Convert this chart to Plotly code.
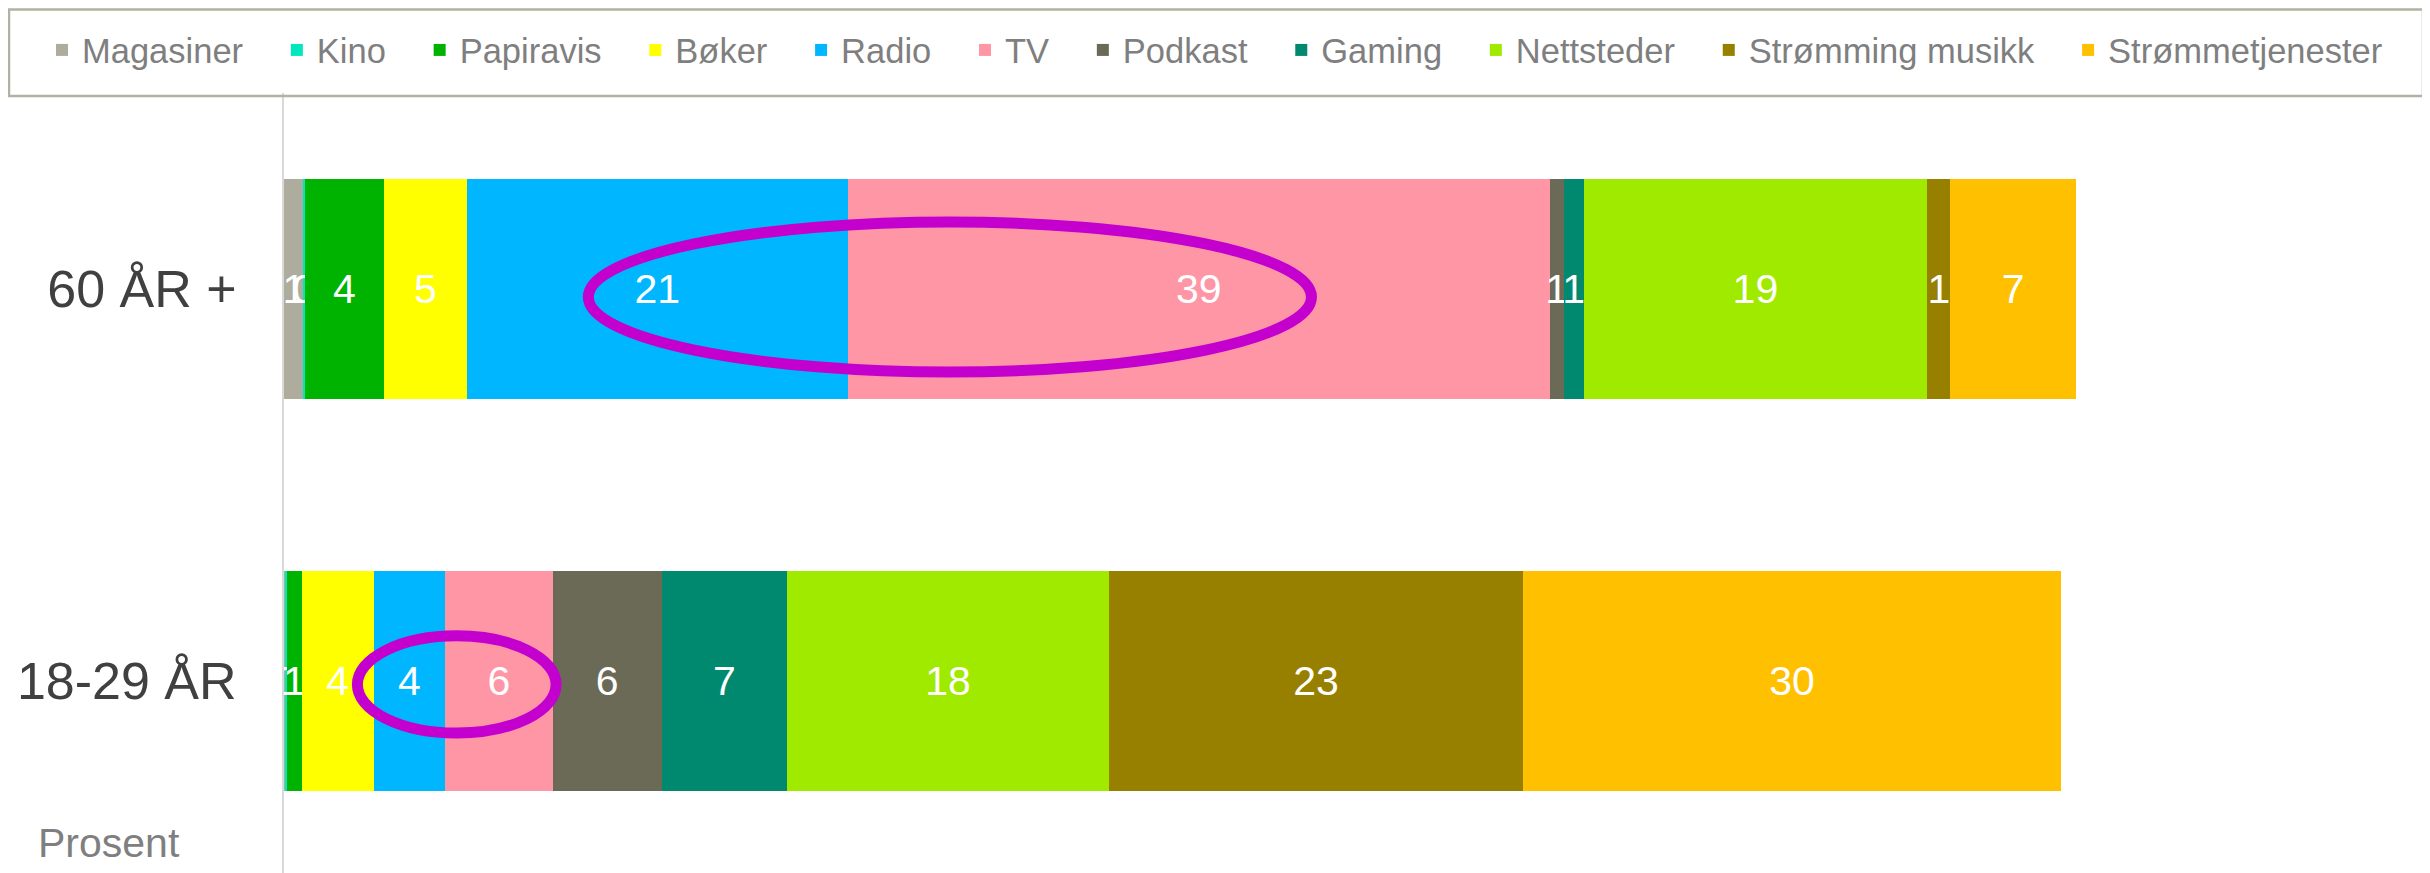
import plotly.graph_objects as go

# ---- data ----
categories = ["18-29 ÅR", "60 ÅR +"]
series_names = ["Magasiner", "Kino", "Papiravis", "Bøker", "Radio", "TV", "Podkast",
                "Gaming", "Nettsteder", "Strømming musikk", "Strømmetjenester"]
# values in percent, [18-29 ÅR, 60 ÅR +]
magasiner = [0.1, 1.1]
kino = [0.05, 0.05]
papiravis = [0.85, 4.45]
boker = [4.0, 4.6]
radio = [4.0, 21.3]
tv = [6.0, 39.2]
podkast = [6.1, 0.8]
gaming = [7.0, 1.1]
nettsteder = [18.0, 19.2]
stromming_musikk = [23.1, 1.3]
strommetjenester = [30.1, 7.0]

series_values = [magasiner, kino, papiravis, boker, radio, tv, podkast,
                 gaming, nettsteder, stromming_musikk, strommetjenester]
colors = ["#ADAC9D", "#00E6BE", "#00B300", "#FFFF00", "#00B6FF", "#FF96A6",
          "#6B6A57", "#00896F", "#A0EA00", "#978000", "#FFC000"]

FONT = "Liberation Sans, Arial, sans-serif"
NBSP = "\u00a0"

# page has an 8px body margin; figure coordinates = page coordinates - 8
OFF = 8
W, H = 2430 - OFF, 873 - OFF
ML, MT, MB = 284 - OFF, 93 - OFF, 0
PLOT_RIGHT = 2420 - OFF
MR = W - PLOT_RIGHT
PW = W - ML - MR
PH = H - MT - MB
PX_PER_UNIT = 17.9
X_MAX = PW / PX_PER_UNIT

fig = go.Figure()
for i, (name, vals, col) in enumerate(zip(series_names, series_values, colors)):
    legend_name = name if i == len(series_names) - 1 else name + NBSP * 3
    fig.add_trace(go.Bar(
        y=categories, x=vals, name=legend_name, orientation="h",
        marker=dict(color=col, line=dict(width=0)),
        texttemplate="%{x:.0f}", textposition="inside", insidetextanchor="middle",
        textangle=0, constraintext="none",
        insidetextfont=dict(color="white", size=41, family=FONT),
        hoverinfo="x+name",
    ))

def px_to_paper_x(page_px):
    return (page_px - OFF - ML) / PW

def px_to_paper_y(page_py):
    return (H - MB - (page_py - OFF)) / PH

shapes = [
    # legend frame
    dict(type="rect", xref="paper", yref="paper",
         x0=px_to_paper_x(9), x1=px_to_paper_x(2423),
         y0=px_to_paper_y(96), y1=px_to_paper_y(9.5),
         line=dict(color="#B0B2A2", width=2.5), fillcolor="rgba(0,0,0,0)", layer="above"),
    # highlight ellipses
    dict(type="circle", xref="x", yref="y", x0=17.0, x1=57.4, y0=0.788, y1=1.171,
         line=dict(color="#C400CF", width=11), layer="above"),
    dict(type="circle", xref="x", yref="y", x0=4.1, x1=15.2, y0=-0.133, y1=0.115,
         line=dict(color="#C400CF", width=11), layer="above"),
]

fig.update_layout(
    width=W, height=H,
    barmode="stack", bargap=0.44,
    margin=dict(l=ML, r=MR, t=MT, b=MB, pad=0, autoexpand=False),
    plot_bgcolor="white", paper_bgcolor="white",
    font=dict(family=FONT),
    showlegend=True,
    legend=dict(orientation="h",
                x=px_to_paper_x(42), xanchor="left",
                y=px_to_paper_y(50), yanchor="middle",
                font=dict(size=34.5, color="#7F7F7F", family=FONT),
                bgcolor="rgba(0,0,0,0)", borderwidth=0, traceorder="normal"),
    xaxis=dict(range=[0, X_MAX], showgrid=False, zeroline=False, showticklabels=False,
               showline=False, fixedrange=True, automargin=False),
    yaxis=dict(type="category", categoryorder="array", categoryarray=categories,
               range=[-0.49, 1.5], showgrid=False, zeroline=False, automargin=False,
               showline=True, linecolor="#D9D9D9", linewidth=2,
               ticks="", ticklabelstandoff=35,
               tickfont=dict(size=52, color="#404040", family=FONT)),
    shapes=shapes,
    annotations=[dict(text="Prosent", xref="paper", yref="paper",
                      x=px_to_paper_x(36), y=px_to_paper_y(843),
                      xanchor="left", yanchor="middle", showarrow=False,
                      font=dict(size=41, color="#7F7F7F", family=FONT))],
)

fig.write_html("out.html")
